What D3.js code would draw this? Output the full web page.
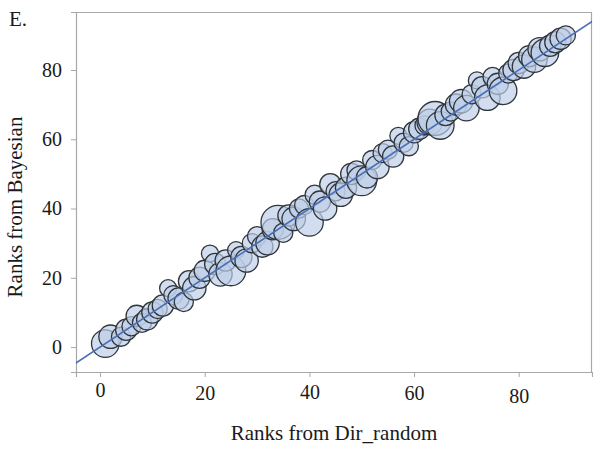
<!DOCTYPE html>
<html>
<head>
<meta charset="utf-8">
<script src="https://cdn.jsdelivr.net/npm/d3@7"></script>
<style>
  html, body { margin: 0; padding: 0; background: #fff; }
  svg { display: block; }
  text { font-family: "Liberation Serif", "Times New Roman", serif; fill: #1a1a1a; }
</style>
</head>
<body>
<svg id="chart" width="593" height="451"></svg>
<script>
// Ranks from Dir_random (x), ranks from Bayesian (y), bubble size
const dirRandom = [1,2,4,5,6,7,8,9,10,11,12,13,14,15,16,17,18,19,20,21,22,23,24,25,26,27,28,29,30,31,32,33,34,35,36,37,38,39,40,41,42,43,44,45,46,47,48,49,50,51,52,53,54,55,56,57,58,59,60,61,62,63,64,65,66,67,68,69,70,71,72,73,74,75,76,77,78,79,80,81,82,83,84,85,86,87,88,89];
const bayesian  = [1,3,3,5,6,9,7,8,10,11,12,17,15,14,13,19,17,20,22,27,24,21,25,22,28,26,25,30,32,29,30,34,36,33,38,37,40,41,36,44,42,40,47,45,44,46,50,51,48,49,54,52,56,57,55,61,59,58,62,63,64,65,66,64,67,68,70,71,69,73,77,75,72,78,76,74,79,80,82,81,84,83,86,85,87,88,89,90];
const bubbleSize = [13,11,9,10,9,10,9,10,10,9,10,8,9,10,9,10,11,10,10,8,10,11,10,14,8,10,11,9,9,10,11,10,16,9,10,11,9,9,13,9,10,11,10,9,11,10,10,9,14,10,9,11,9,9,10,8,9,9,10,10,9,12,16,13,10,9,10,11,12,9,8,10,12,9,10,13,9,10,10,11,10,12,11,13,10,10,10,9];
const xTicks = [0, 20, 40, 60, 80];
const yTicks = [0, 20, 40, 60, 80];
const xTitle = "Ranks from Dir_random";
const yTitle = "Ranks from Bayesian";
const panelLabel = "E.";

const svg = d3.select("#chart");
const L = 76, R = 592, T = 12, B = 372;

const x = d3.scaleLinear().domain([-4.6, 94]).range([L, R]);
const y = d3.scaleLinear().domain([-7.2, 96.75]).range([B, T]);
const r = d3.scaleLinear().domain([0, 16]).range([0, 17]);

const data = dirRandom.map((d, i) => ({ x: d, y: bayesian[i], s: bubbleSize[i] }));

svg.append("defs").append("clipPath").attr("id", "clip")
  .append("rect").attr("x", L).attr("y", T).attr("width", R - L).attr("height", B - T);

const axisColor = "#a8a8a8";

// frame (top and right)
svg.append("line").attr("x1", L).attr("x2", R).attr("y1", T + 0.5).attr("y2", T + 0.5)
  .attr("stroke", axisColor).attr("stroke-width", 1.2);
svg.append("line").attr("x1", R - 0.5).attr("x2", R - 0.5).attr("y1", T).attr("y2", B)
  .attr("stroke", axisColor).attr("stroke-width", 1.2);

// axes
const xAxis = svg.append("g").attr("transform", `translate(0,${B})`)
  .call(d3.axisBottom(x).tickValues(xTicks).tickSize(5).tickPadding(8).tickFormat(d3.format("d")));
const yAxis = svg.append("g").attr("transform", `translate(${L},0)`)
  .call(d3.axisLeft(y).tickValues(yTicks).tickSize(5).tickPadding(9).tickFormat(d3.format("d")));

[xAxis, yAxis].forEach(g => {
  g.select(".domain").attr("stroke", axisColor).attr("stroke-width", 1.2);
  g.selectAll(".tick line").attr("stroke", axisColor).attr("stroke-width", 1);
  g.selectAll(".tick text").attr("font-size", 20)
    .attr("font-family", '"Liberation Serif", "Times New Roman", serif').attr("fill", "#1a1a1a");
});
// slight vertical stagger of the x tick labels as in the original
const xLabelShift = [-2, 1, 0, 1, 4];
xAxis.selectAll(".tick text").attr("transform", (d, i) => `translate(0,${xLabelShift[i]})`);

// bubbles
const plot = svg.append("g").attr("clip-path", "url(#clip)");
plot.selectAll("circle").data(data).join("circle")
  .attr("cx", d => x(d.x))
  .attr("cy", d => y(d.y))
  .attr("r", d => r(d.s))
  .attr("fill", "#bccfe8")
  .attr("fill-opacity", 0.68)
  .attr("stroke", "#30353c")
  .attr("stroke-width", 1.3);

// identity line
plot.append("line")
  .attr("x1", x(-10)).attr("y1", y(-10))
  .attr("x2", x(100)).attr("y2", y(100))
  .attr("stroke", "#4a6fb5").attr("stroke-width", 1.6);

// titles
svg.append("text").attr("x", 334).attr("y", 440).attr("text-anchor", "middle")
  .attr("font-size", 21).text(xTitle);
svg.append("text").attr("transform", "translate(22,207) rotate(-90)").attr("text-anchor", "middle")
  .attr("font-size", 21).text(yTitle);
svg.append("text").attr("x", 9).attr("y", 26).attr("font-size", 21).text(panelLabel);
</script>
</body>
</html>
